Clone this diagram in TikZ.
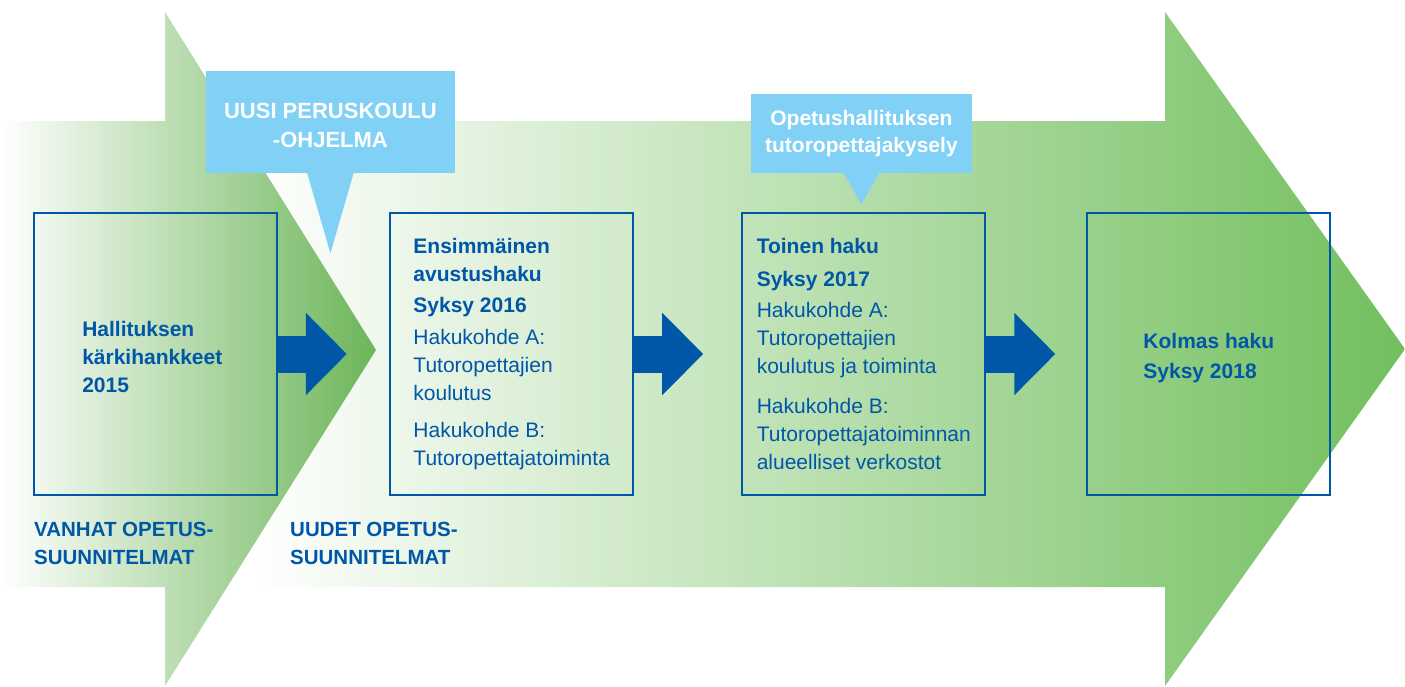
\documentclass[tikz,border=0pt]{standalone}
\usepackage{fontspec}
\setmainfont{Liberation Sans}
\usetikzlibrary{arrows.meta}
\definecolor{kgreen}{RGB}{114,191,94}
\definecolor{kblue}{RGB}{0,87,168}
\definecolor{kcyan}{RGB}{128,209,245}
\tikzset{box/.style={draw=kblue, line width=2pt, minimum width=243pt, minimum height=282pt, align=left, text=kblue, inner sep=0pt, font=\fontsize{21}{28}\selectfont},
         boxtext/.style={text=kblue, align=left, inner sep=0pt},
         bigarrow/.style={draw=kblue, line width=37pt, -{Triangle[length=41pt, width=80pt]}},
         callout/.style={fill=kcyan, text=white, align=center, inner sep=0pt, font=\bfseries\fontsize{21}{27}\selectfont},
         bottomlabel/.style={anchor=north west, inner sep=0pt, text=kblue, align=left, font=\bfseries\fontsize{20.5}{28.3}\selectfont}}

\begin{document}
\begin{tikzpicture}[x=1pt, y=-1pt]
   \useasboundingbox (0,0) rectangle (1405,686);
   % background arrows
   \shade[left color=white, right color=kgreen] (248,121) -- (1165,121) -- (1165,12) -- (1405,349)
      -- (1165,686) -- (1165,587) -- (248,587) -- cycle;
   \shade[left color=white, right color=kgreen!95!black] (0,121) -- (165,121) -- (165,12) -- (376,350)
      -- (165,686) -- (165,587) -- (0,587) -- cycle;

   % boxes
   \node[box] (hallitus) at (155.3,354) {};
   \node[boxtext, font=\bfseries\fontsize{21}{28}\selectfont, yshift=-3pt, xshift=-3pt] (hallitusteksti) at (hallitus)
      {Hallituksen\\kärkihankkeet\\2015};
   \node[box] (haku1) at (511.7,354) {\textbf{Ensimmäinen}\\\textbf{avustushaku}\\[3.5pt]
      \textbf{Syksy 2016}\\[3.5pt] Hakukohde A:\\Tutoropettajien\\koulutus\\[9pt]
      Hakukohde B:\\Tutoropettajatoiminta};
   \node[box] (haku2) at (863.8,354) {\textbf{Toinen haku}\\[4.5pt]\textbf{Syksy 2017}\\[3pt]
      Hakukohde A:\\Tutoropettajien\\koulutus ja toiminta\\[12.5pt]
      Hakukohde B:\\Tutoropettajatoiminnan\\alueelliset verkostot};
   \node[box] (haku3) at (1208.8,354) {};
   \node[boxtext, font=\bfseries\fontsize{21}{30}\selectfont, yshift=-4pt] (haku3teksti) at (haku3)
      {Kolmas haku\\Syksy 2018};

   \draw[bigarrow] (hallitus.east) -- ++(69pt,0pt);
   \draw[bigarrow] (haku1.east) -- ++(69pt,0pt);
   \draw[bigarrow] (haku2.east) -- ++(69pt,0pt);

   % callouts
   \node[callout, minimum width=249.3pt, minimum height=102pt] (peruskoulu) at (330.4,122) {};
   \node[text=white, align=center, font=\bfseries\fontsize{22}{29}\selectfont, yshift=-3pt] (peruskouluteksti) at (peruskoulu)
      {UUSI PERUSKOULU\\-OHJELMA};
   \fill[kcyan] (peruskoulu.south) ++(-23.5,-1) -- ++(23.5,81) -- ++(23.5,-81) -- cycle;
   \node[callout, minimum width=220.7pt, minimum height=78.4pt] (kysely) at (861.4,133.5)
      {Opetushallituksen\\tutoropettajakysely};
   \fill[kcyan] (kysely.south) ++(-18.4,-1) -- ++(18.4,32.3) -- ++(18.4,-32.3) -- cycle;

   \node[bottomlabel] (vanhat) at (34,522) {VANHAT OPETUS-\\SUUNNITELMAT};
   \node[bottomlabel] (uudet) at (290,522) {UUDET OPETUS-\\SUUNNITELMAT};
\end{tikzpicture}
\end{document}
